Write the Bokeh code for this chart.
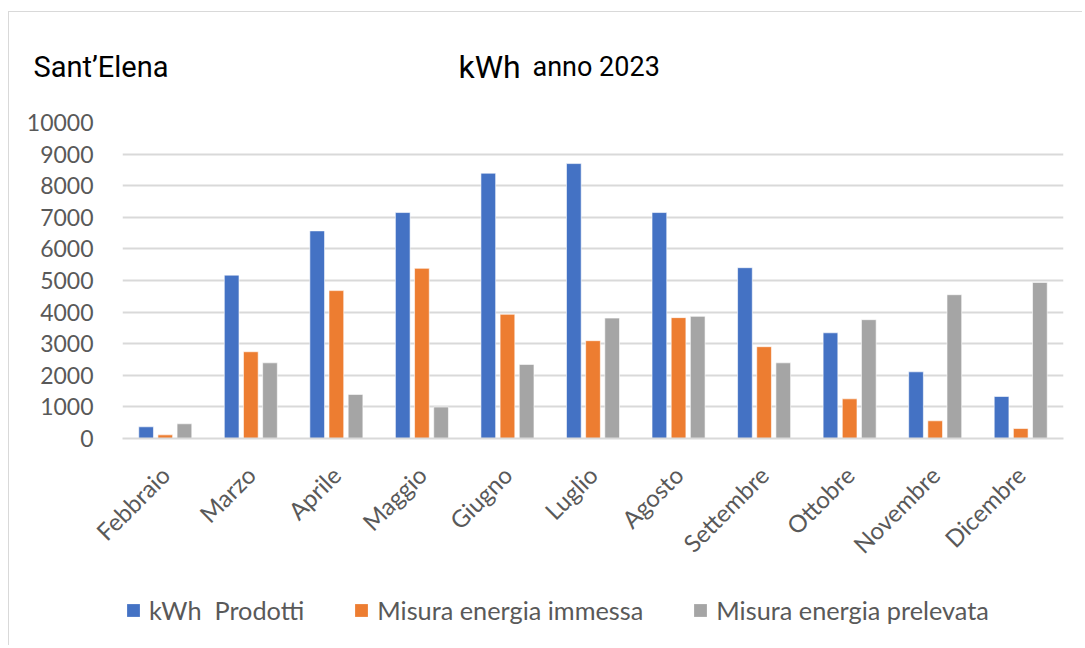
import math
from bokeh.plotting import figure
from bokeh.models import (ColumnDataSource, FactorRange, Range1d, Legend, LegendItem,
                          SingleIntervalTicker)
from bokeh.core.properties import value
from bokeh.transform import dodge
from bokeh.embed import file_html
from bokeh.resources import INLINE

months = ["Febbraio", "Marzo", "Aprile", "Maggio", "Giugno", "Luglio",
          "Agosto", "Settembre", "Ottobre", "Novembre", "Dicembre"]
prodotti = [370, 5170, 6570, 7150, 8395, 8700, 7150, 5405, 3345, 2110, 1330]
immessa = [115, 2745, 4680, 5385, 3930, 3095, 3825, 2905, 1255, 560, 315]
prelevata = [465, 2395, 1395, 995, 2345, 3810, 3865, 2395, 3760, 4550, 4940]

series_names = ["kWh  Prodotti", "Misura energia immessa", "Misura energia prelevata"]
colors = ["#4472C4", "#ED7D31", "#A5A5A5"]
title_left = "Sant’Elena"
title_unit = "kWh"
title_year = "anno 2023"

W = 1074
HEAD_H = 96
MAIN_H = 482
FOOT_H = 56
BORDER = "1px solid #d9d9d9"

# ---------- header with titles ----------
head = figure(width=W, height=HEAD_H, x_range=Range1d(0, W), y_range=Range1d(HEAD_H, 0),
              x_axis_location=None, y_axis_location=None, min_border=0,
              output_backend="svg", toolbar_location=None)
head.grid.visible = False
head.outline_line_color = None
head.styles = {"margin-left": "8px", "margin-top": "11px", "border-left": BORDER, "border-top": BORDER}
head.text(x=[24], y=[54.5], text=[title_left], text_font=value("Roboto"),
          text_font_size="29px", text_color="#000000", text_baseline="alphabetic")
head.text(x=[449], y=[54.5], text=[title_unit], text_font=value("Roboto"),
          text_font_size="32px", text_color="#000000", text_baseline="alphabetic")
head.text(x=[523], y=[54.5], text=[title_year], text_font=value("Roboto"),
          text_font_size="27px", text_color="#000000", text_baseline="alphabetic")

# ---------- main chart ----------
src = ColumnDataSource(dict(month=months, prodotti=prodotti, immessa=immessa, prelevata=prelevata))

p = figure(x_range=FactorRange(*months, range_padding=0), y_range=Range1d(0, 10000),
           width=W, height=MAIN_H, output_backend="svg", toolbar_location=None,
           min_border_left=113, min_border_top=15, min_border_right=20,
           min_border_bottom=MAIN_H - 331)
p.outline_line_color = None
p.styles = {"margin-left": "8px", "border-left": BORDER}

bw, off = 0.172, 0.224
for col, c, dx in zip(["prodotti", "immessa", "prelevata"], colors, [-off, 0.0, off]):
    p.vbar(x=dodge("month", dx, range=p.x_range), top=col, width=bw, source=src,
           fill_color=c, line_color="white", line_width=0.6)

p.yaxis.ticker = SingleIntervalTicker(interval=1000)
p.yaxis.axis_line_color = None
p.yaxis.major_tick_line_color = None
p.yaxis.minor_tick_line_color = None
p.yaxis.major_label_text_font = "Lato"
p.yaxis.major_label_text_font_size = "23px"
p.yaxis.major_label_text_color = "#595959"
p.yaxis.major_label_standoff = 23

p.xaxis.axis_line_color = "#d9d9d9"
p.xaxis.axis_line_width = 2
p.xaxis.major_tick_line_color = None
p.xaxis.minor_tick_line_color = None
p.xaxis.major_label_orientation = math.pi / 4
p.xaxis.major_label_text_font = "Lato"
p.xaxis.major_label_text_font_size = "24px"
p.xaxis.major_label_text_color = "#595959"
p.xaxis.major_label_standoff = 26

p.xgrid.grid_line_color = None
p.ygrid.grid_line_color = "#d9d9d9"
p.ygrid.grid_line_width = 2

# ---------- footer with legend ----------
foot = figure(width=W, height=FOOT_H, x_range=Range1d(0, W), y_range=Range1d(0, FOOT_H),
              x_axis_location=None, y_axis_location=None, min_border=0,
              output_backend="svg", toolbar_location=None)
foot.grid.visible = False
foot.outline_line_color = None
foot.styles = {"margin-left": "8px", "border-left": BORDER}
# legend keys: zero-height bars placed outside the visible range
keys = [foot.vbar(x=[-100], top=[0], width=1, fill_color=c, line_color=None) for c in colors]
legend = Legend(items=[LegendItem(label=n, renderers=[r]) for n, r in zip(series_names, keys)],
                location=(116, 20), orientation="horizontal", padding=0, margin=0, spacing=49,
                glyph_width=16, glyph_height=16, label_height=16, label_standoff=8,
                label_text_font="Lato", label_text_font_size="25.3px", label_text_color="#595959",
                border_line_color=None, background_fill_alpha=0)
foot.add_layout(legend, "center")

open("out.html", "w").write(file_html([head, p, foot], INLINE))
